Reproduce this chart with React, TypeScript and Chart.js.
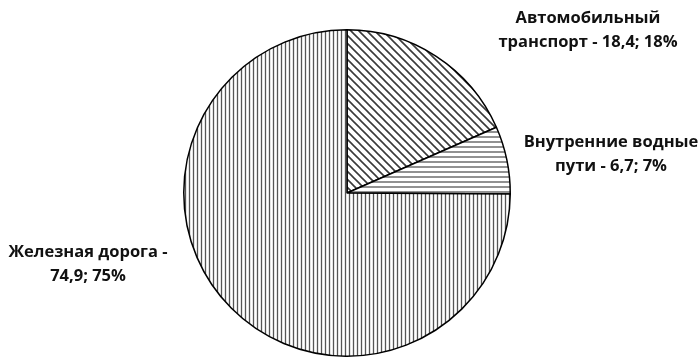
import React, { useEffect, useRef } from "react";
import { Chart, registerables } from "chart.js";

Chart.register(...registerables);

const categories = ["Автомобильный транспорт", "Внутренние водные пути", "Железная дорога"];
const values = [18.4, 6.7, 74.9];
const percents = ["18%", "7%", "75%"];
const labelLines = [
  ["Автомобильный", "транспорт - 18,4; 18%"],
  ["Внутренние водные", "пути - 6,7; 7%"],
  ["Железная дорога -", "74,9; 75%"],
];

function makePattern(kind: string): CanvasPattern | string {
  const c = document.createElement("canvas");
  let w = 4, h = 4;
  if (kind === "diag") { w = 8; h = 8; }
  if (kind === "horiz") { w = 5; h = 5; }
  c.width = w; c.height = h;
  const ctx = c.getContext("2d")!;
  ctx.fillStyle = "#ffffff";
  ctx.fillRect(0, 0, w, h);
  ctx.strokeStyle = "#555555";
  if (kind === "vert") {
    ctx.lineWidth = 1.3;
    ctx.beginPath(); ctx.moveTo(1.5, 0); ctx.lineTo(1.5, h); ctx.stroke();
  } else if (kind === "horiz") {
    ctx.lineWidth = 1.3;
    ctx.beginPath(); ctx.moveTo(0, 2); ctx.lineTo(w, 2); ctx.stroke();
  } else {
    ctx.strokeStyle = "#3a3a3a";
    ctx.lineWidth = 1.6;
    ctx.beginPath();
    ctx.moveTo(-1, -1); ctx.lineTo(w + 1, h + 1);
    ctx.moveTo(-1, h - 1); ctx.lineTo(1, h + 1);
    ctx.moveTo(w - 1, -1); ctx.lineTo(w + 1, 1);
    ctx.stroke();
  }
  const p = ctx.createPattern(c, "repeat");
  return p || "#fff";
}

const labelPlugin = {
  id: "sliceLabels",
  afterDraw(chart: any) {
    const ctx = chart.ctx;
    const meta = chart.getDatasetMeta(0);
    const arc = meta.data[0];
    const cx = arc.x, cy = arc.y;
    const anchors = [
      [cx + 241, cy - 175],
      [cx + 264, cy - 51],
      [cx - 259, cy + 59],
    ];
    ctx.save();
    ctx.fillStyle = "#111111";
    ctx.font = "bold 16.5px 'Open Sans'";
    ctx.textAlign = "center";
    ctx.textBaseline = "middle";
    labelLines.forEach((lines, i) => {
      const [ax, ay] = anchors[i];
      lines.forEach((t, j) => ctx.fillText(t, ax, ay + j * 24));
    });
    ctx.restore();
  },
};

export default function App() {
  const ref = useRef<HTMLCanvasElement>(null);
  useEffect(() => {
    document.body.style.margin = "0";
    const chart = new Chart(ref.current!, {
      type: "pie",
      data: {
        labels: categories,
        datasets: [
          {
            data: values,
            backgroundColor: [makePattern("diag"), makePattern("horiz"), makePattern("vert")] as any,
            borderColor: "#000000",
            borderWidth: 1.5,
          },
        ],
      },
      options: {
        responsive: false,
        animation: false,
        layout: { padding: { left: 0, right: 6, top: 29, bottom: 2 } },
        plugins: {
          legend: { display: false },
          tooltip: { enabled: false },
        },
      },
      plugins: [labelPlugin],
    });
    return () => chart.destroy();
  }, []);
  return (
    <div style={{ width: 700, height: 359, background: "#fff" }}>
      <canvas ref={ref} width={700} height={359} />
    </div>
  );
}
